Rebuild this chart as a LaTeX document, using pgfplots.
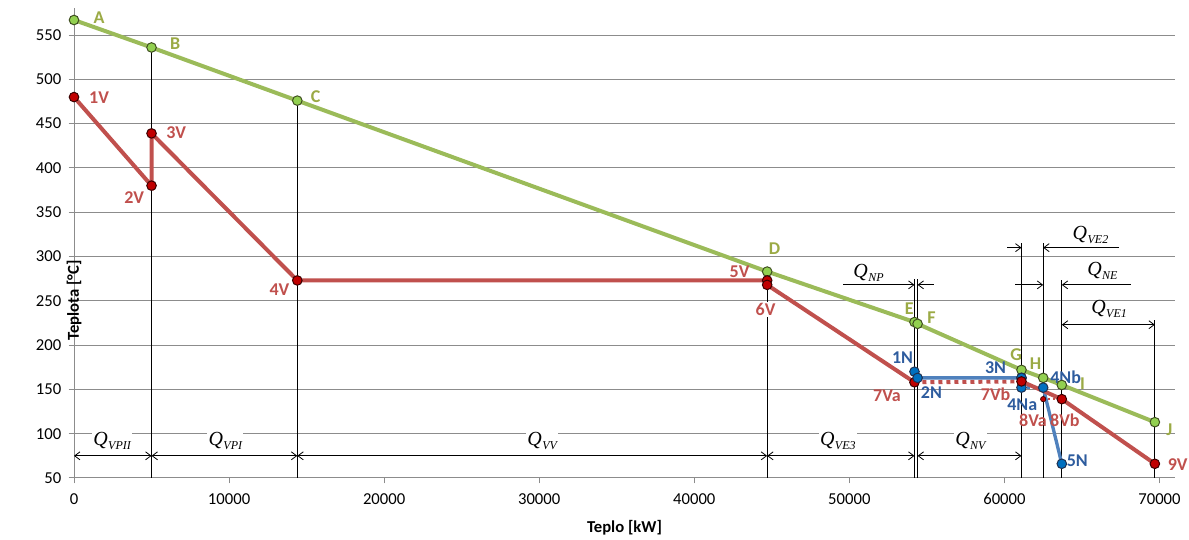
\documentclass[border=0pt]{standalone}
\usepackage{pgfplots}
\pgfplotsset{compat=1.18}
\usepackage{fontspec}
\setmainfont{Carlito}
\newfontfamily\qfont{Liberation Serif}
\usetikzlibrary{arrows.meta}
\definecolor{gline}{HTML}{9BBB59}
\definecolor{gfill}{HTML}{92D050}
\definecolor{gdark}{HTML}{3F4F20}
\definecolor{gtext}{HTML}{9BAA45}
\definecolor{rline}{HTML}{C0504D}
\definecolor{rfill}{HTML}{C00000}
\definecolor{rdark}{HTML}{3A0000}
\definecolor{rtext}{HTML}{C0504D}
\definecolor{bline}{HTML}{4F81BD}
\definecolor{bfill}{HTML}{0070C0}
\definecolor{bdark}{HTML}{1F3050}
\definecolor{btext}{HTML}{2E5C9E}
\definecolor{gridc}{HTML}{8C8C8C}
\newcommand{\Q}[1]{{\qfont\itshape\fontsize{15}{15}\selectfont Q\kern0.3pt\raisebox{-0.45ex}{\fontsize{9}{9}\selectfont #1}}}
\tikzset{
  dimab/.style={black, line width=0.6pt, {Straight Barb[length=4pt,width=6pt]}-{Straight Barb[length=4pt,width=6pt]}},
  dimr/.style={black, line width=0.6pt, -{Straight Barb[length=4pt,width=6pt]}},
  lab/.style={font=\bfseries\fontsize{13.5}{14}\selectfont, inner sep=1pt},
}
\begin{document}
\begin{tikzpicture}
\begin{axis}[name=ax, scale only axis, width=825.75pt, height=352.1pt,
  xmin=0, xmax=71000, ymin=50, ymax=580,
  axis lines=left, axis line style={-, draw=gridc, line width=0.75pt},
  xtick={0,10000,...,70000}, ytick={50,100,...,550},
  ymajorgrids, grid style={gridc, line width=0.75pt},
  tick align=outside, major tick length=4pt, tick style={gridc, line width=0.75pt},
  scaled x ticks=false,
  /pgf/number format/1000 sep={}, /pgf/number format/assume math mode=true,
  ticklabel style={font=\fontsize{12.5}{14}\selectfont},
  xticklabel style={yshift=-4pt},
  yticklabel style={xshift=-2pt},
  xlabel={Teplo [kW]}, ylabel={Teplota [°C]},
  every axis x label/.style={at={(axis description cs:0.5,0)}, anchor=center, yshift=-37pt, font=\bfseries\fontsize{12.5}{14}\selectfont},
  every axis y label/.style={at={(axis description cs:0,0.5)}, anchor=center, rotate=90, xshift=-42.75pt, font=\bfseries\fontsize{12.5}{14}\selectfont},
  clip=false,
]
% vertical reference lines
\addplot[black, line width=0.75pt, forget plot] coordinates {(5000,50) (5000,536)};
\addplot[black, line width=0.75pt, forget plot] coordinates {(14400,50) (14400,476)};
\addplot[black, line width=0.75pt, forget plot] coordinates {(44700,50) (44700,268)};
\addplot[black, line width=0.75pt, forget plot] coordinates {(54200,50) (54200,275)};
\addplot[black, line width=0.75pt, forget plot] coordinates {(54400,50) (54400,275)};
\addplot[black, line width=0.75pt, forget plot] coordinates {(61100,50) (61100,315)};
\addplot[black, line width=0.75pt, forget plot] coordinates {(62500,50) (62500,315)};
\addplot[black, line width=0.75pt, forget plot] coordinates {(63700,50) (63700,273)};
\addplot[black, line width=0.75pt, forget plot] coordinates {(69700,50) (69700,228)};

% green
\addplot[gline, line width=3pt, mark=*, mark size=3.6pt, mark options={fill=gfill, draw=gdark, line width=0.75pt}]
  coordinates {(0,567) (5000,536) (14400,476) (44700,283) (54200,226) (54400,224) (61100,172) (62500,163) (63700,155) (69700,113)};

% red
\addplot[rline, line width=3pt, mark=*, mark size=3.6pt, mark options={fill=rfill, draw=rdark, line width=0.75pt}]
  coordinates {(0,480) (5000,380) (5000,439) (14400,273) (44700,273) (44700,268) (54200,158)};
\addplot[rline, line width=3pt, dash pattern=on 3pt off 3pt, no marks]
  coordinates {(54200,158) (61100,159)};
\addplot[rline, line width=1.5pt, dash pattern=on 1.5pt off 2pt, mark=*, mark size=2pt, mark options={solid, fill=rfill, draw=rdark, line width=0.5pt}]
  coordinates {(62500,139) (63700,139)};

% blue
\addplot[bline, line width=2.5pt, mark=*, mark size=3.6pt, mark options={fill=bfill, draw=bdark, line width=0.75pt}]
  coordinates {(54200,170) (54400,163) (61100,163)};
\addplot[bline, line width=2.5pt, mark=*, mark size=3.6pt, mark options={fill=bfill, draw=bdark, line width=0.75pt}]
  coordinates {(61100,163) (61100,152)};
\addplot[bline, line width=2pt, dash pattern=on 2pt off 2.5pt, no marks]
  coordinates {(61100,152) (62500,152)};
\addplot[bline, line width=2.5pt, mark=*, mark size=3.6pt, mark options={fill=bfill, draw=bdark, line width=0.75pt}]
  coordinates {(62500,152) (63700,66)};

% red end segment on top
\addplot[rline, line width=3pt, mark=*, mark size=3.6pt, mark options={fill=rfill, draw=rdark, line width=0.75pt}]
  coordinates {(61100,159) (63700,139) (69700,66)};

% dimension arrows
\draw[dimab] (axis cs:0,75) -- (axis cs:5000,75);
\draw[dimab] (axis cs:5000,75) -- (axis cs:14400,75);
\draw[dimab] (axis cs:14400,75) -- (axis cs:44700,75);
\draw[dimab] (axis cs:44700,75) -- (axis cs:54200,75);
\draw[dimab] (axis cs:54400,75) -- (axis cs:61100,75);
\draw[dimr] (axis cs:49600,268) -- (axis cs:54200,268);
\draw[dimr] (axis cs:55440,268) -- (axis cs:54400,268);
\draw[dimr] (axis cs:60700,268) -- (axis cs:62500,268);
\draw[dimr] (axis cs:68130,268) -- (axis cs:63700,268);
\draw[dimr] (axis cs:60180,310) -- (axis cs:61100,310);
\draw[dimr] (axis cs:67400,310) -- (axis cs:62500,310);
\draw[dimab] (axis cs:63700,223) -- (axis cs:69700,223);

% Q labels
\node[fill=white, inner sep=1pt] at (axis cs:2460,92) {\Q{VPII}};
\node[fill=white, inner sep=1pt] at (axis cs:9760,92) {\Q{VPI}};
\node[fill=white, inner sep=1pt] at (axis cs:30190,92) {\Q{VV}};
\node[fill=white, inner sep=1pt] at (axis cs:49260,92) {\Q{VE3}};
\node[fill=white, inner sep=1pt] at (axis cs:57810,92) {\Q{NV}};
\node[inner sep=1pt] at (axis cs:51240,282) {\Q{NP}};
\node[inner sep=1pt] at (axis cs:66320,284) {\Q{NE}};
\node[inner sep=1pt] at (axis cs:65550,324) {\Q{VE2}};
\node[inner sep=1pt] at (axis cs:66750,241) {\Q{VE1}};

% point labels green
\node[lab, text=gtext] at (axis cs:1616,570) {A};
\node[lab, text=gtext] at (axis cs:6530,540) {B};
\node[lab, text=gtext] at (axis cs:15580,480) {C};
\node[lab, text=gtext] at (axis cs:45180,309) {D};
\node[lab, text=gtext] at (axis cs:53870,241) {E};
\node[lab, text=gtext] at (axis cs:55290,231) {F};
\node[lab, text=gtext] at (axis cs:60760,189) {G};
\node[lab, text=gtext] at (axis cs:62010,179) {H};
\node[lab, text=gtext] at (axis cs:65030,157) {I};
\node[lab, text=gtext] at (axis cs:70630,105) {J};
% red
\node[lab, text=rtext] at (axis cs:1616,479) {1V};
\node[lab, text=rtext] at (axis cs:3880,366) {2V};
\node[lab, text=rtext] at (axis cs:6590,440) {3V};
\node[lab, text=rtext] at (axis cs:13250,263) {4V};
\node[lab, text=rtext] at (axis cs:42920,283) {5V};
\node[lab, text=rtext, fill=white] at (axis cs:44600,240) {6V};
\node[lab, text=rtext] at (axis cs:52430,143) {7Va};
\node[lab, text=rtext] at (axis cs:59430,145) {7Vb};
\node[lab, text=rtext] at (axis cs:61840,115) {8Va};
\node[lab, text=rtext] at (axis cs:63900,115) {8Vb};
\node[lab, text=rtext] at (axis cs:71170,65.5) {9V};
% blue
\node[lab, text=btext] at (axis cs:53430,186) {1N};
\node[lab, text=btext] at (axis cs:55290,146.5) {2N};
\node[lab, text=btext] at (axis cs:59430,175) {3N};
\node[lab, text=btext] at (axis cs:61150,133) {4Na};
\node[lab, text=btext] at (axis cs:63950,163.5) {4Nb};
\node[lab, text=btext] at (axis cs:64700,70) {5N};
\end{axis}
\pgfresetboundingbox
\path[use as bounding box] ([xshift=-55.5pt,yshift=-46.5pt]ax.south west) rectangle ([xshift=10.5pt,yshift=6.375pt]ax.north east);
\end{tikzpicture}
\end{document}
